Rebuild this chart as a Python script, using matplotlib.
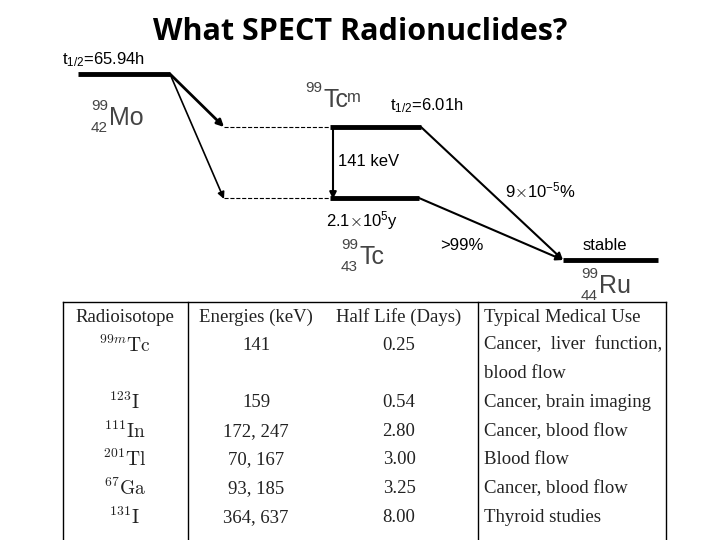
import matplotlib
matplotlib.use("Agg")
import matplotlib.pyplot as plt

plt.rcParams['mathtext.fontset'] = 'cm'

isotopes = [r'$^{99m}\mathrm{Tc}$', r'$^{123}\mathrm{I}$', r'$^{111}\mathrm{In}$',
            r'$^{201}\mathrm{Tl}$', r'$^{67}\mathrm{Ga}$', r'$^{131}\mathrm{I}$']
energies = ['141', '159', '172, 247', '70, 167', '93, 185', '364, 637']
half_lives = ['0.25', '0.54', '2.80', '3.00', '3.25', '8.00']
uses = [['Cancer,  liver  function,', 'blood flow'], ['Cancer, brain imaging'],
        ['Cancer, blood flow'], ['Blood flow'], ['Cancer, blood flow'], ['Thyroid studies']]
headers = ['Radioisotope', 'Energies (keV)', 'Half Life (Days)', 'Typical Medical Use']

fig = plt.figure(figsize=(7.2, 5.4), dpi=100)
ax = fig.add_axes([0, 0, 1, 1])
ax.set_xlim(0, 720); ax.set_ylim(540, 0); ax.axis('off')

ax.text(360, 32, 'What SPECT Radionuclides?', ha='center', va='center',
        fontsize=22, fontweight='bold', family='Open Sans')
sans = 'Liberation Sans'
fs = 12
ax.text(62, 60, r'$\mathregular{t_{1/2}}$=65.94h', fontsize=fs, family=sans, va='center')

lw = 3.5
ax.plot([78, 170], [74, 74], 'k', lw=lw, solid_capstyle='butt')
ax.plot([330, 421], [127, 127], 'k', lw=lw, solid_capstyle='butt')
ax.plot([330, 419], [198, 198], 'k', lw=lw, solid_capstyle='butt')
ax.plot([563, 658], [260, 260], 'k', lw=lw, solid_capstyle='butt')
ax.plot([224, 330], [127, 127], 'k--', lw=0.8)
ax.plot([224, 330], [198, 198], 'k--', lw=0.8)

def arrow(x0, y0, x1, y1, lw=1.5):
    ax.annotate('', xy=(x1, y1), xytext=(x0, y0),
                arrowprops=dict(arrowstyle='-|>', color='k', lw=lw, mutation_scale=10,
                                shrinkA=0, shrinkB=0))
arrow(170, 74, 224, 127, 2)
arrow(170, 74, 224, 199, 1.2)
arrow(333, 127, 333, 199, 1.5)
arrow(421, 127, 563, 260, 1.5)
arrow(419, 198, 563, 260, 1.5)

gray = '#444444'
def nuc(x, y, mass, z, sym, color=gray):
    ax.text(x, y - 11, mass, fontsize=11, family=sans, color=color, ha='right', va='center')
    if z:
        ax.text(x, y + 11, z, fontsize=11, family=sans, color=color, ha='right', va='center')
    ax.text(x + 1, y + 1, sym, fontsize=18, family=sans, color=color, ha='left', va='center')
nuc(108, 117, '99', '42', 'Mo')
nuc(322, 99, '99', None, 'Tc')
ax.text(347, 97, 'm', fontsize=12, family=sans, color=gray, va='center')
nuc(358, 256, '99', '43', 'Tc')
nuc(598, 285, '99', '44', 'Ru')

ax.text(390, 106, r'$\mathregular{t_{1/2}}$=6.01h', fontsize=fs, family=sans, va='center')
ax.text(338, 161, '141 keV', fontsize=fs, family=sans, va='center')
ax.text(505, 190, r'9$\times$10$\mathregular{^{-5}}$%', fontsize=fs, family=sans, va='center')
ax.text(326, 221, r'2.1$\times$10$\mathregular{^{5}}$y', fontsize=fs, family=sans, va='center')
ax.text(440, 245, '>99%', fontsize=fs, family=sans, va='center')
ax.text(583, 245, 'stable', fontsize=fs, family=sans, va='center')

tc = '#222222'
ax.plot([63, 666], [302, 302], color='k', lw=1)
for x in [63, 188, 478, 666]:
    ax.plot([x, x], [302, 540], color='k', lw=1)
tf = 'Liberation Serif'
tfs = 13.5
colx = [125, 256, 399, 484]
for i, h in enumerate(headers):
    ax.text(colx[i], 317, h, fontsize=tfs, family=tf, color=tc,
            ha='left' if i == 3 else 'center', va='center')
y = 345
for iso, en, hl, us in zip(isotopes, energies, half_lives, uses):
    ax.text(colx[0], y, iso, fontsize=14, color=tc, ha='center', va='center')
    ax.text(colx[1], y, en, fontsize=tfs, family=tf, color=tc, ha='center', va='center')
    ax.text(colx[2], y, hl, fontsize=tfs, family=tf, color=tc, ha='center', va='center')
    for u in us:
        ax.text(colx[3], y, u, fontsize=tfs, family=tf, color=tc, ha='left', va='center')
        y += 28.7

fig.savefig('out.png', dpi=100)
